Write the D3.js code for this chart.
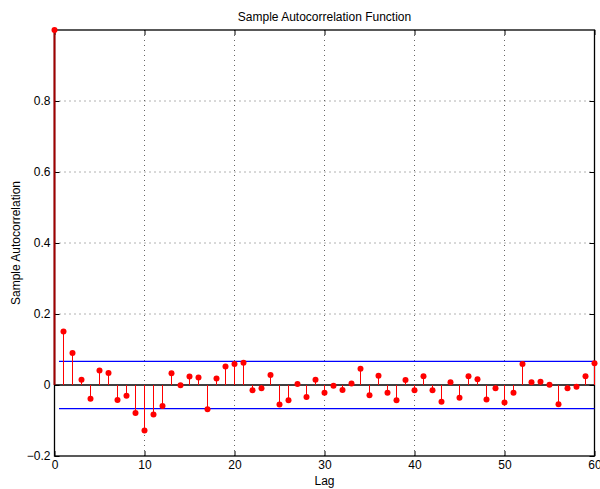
<!DOCTYPE html>
<html>
<head>
<meta charset="utf-8">
<script src="https://cdn.jsdelivr.net/npm/d3@7"></script>
<style>
html,body{margin:0;padding:0;background:#fff;}
text{font-family:"Liberation Sans",Arial,Helvetica,sans-serif;}
</style>
</head>
<body>
<svg id="chart" width="600" height="489"></svg>
<script>
// Data
const lags = d3.range(0, 61);
const acf = [1.000,
  0.151, 0.090, 0.015, -0.039, 0.041, 0.034, -0.042, -0.030, -0.079, -0.128,
  -0.083, -0.059, 0.033, -0.001, 0.024, 0.021, -0.068, 0.018, 0.052, 0.059,
  0.063, -0.015, -0.009, 0.028, -0.055, -0.043, 0.003, -0.034, 0.015, -0.022,
  -0.002, -0.014, 0.004, 0.046, -0.029, 0.026, -0.022, -0.043, 0.014, -0.015,
  0.025, -0.015, -0.047, 0.008, -0.036, 0.025, 0.016, -0.041, -0.009, -0.049,
  -0.022, 0.059, 0.008, 0.009, 0.001, -0.054, -0.009, -0.005, 0.025, 0.061];
const bounds = [0.0667, -0.0667];
const boundRange = [0.5, 60];
const xTicks = [0, 10, 20, 30, 40, 50, 60];
const yTicks = [-0.2, 0, 0.2, 0.4, 0.6, 0.8];
const yGrid = [0.2, 0.4, 0.6, 0.8];
const xGrid = [10, 20, 30, 40, 50];
const title = "Sample Autocorrelation Function";
const xLabel = "Lag";
const yLabel = "Sample Autocorrelation";

const W = 600, H = 489;
const m = {left: 54.5, right: 5.5, top: 30, bottom: 33};
const svg = d3.select("#chart");
const x = d3.scaleLinear().domain([0, 60]).range([m.left, W - m.right]);
const y = d3.scaleLinear().domain([-0.2, 1]).range([H - m.bottom, m.top]);
const x0 = x.range()[0], x1 = x.range()[1], yb = y.range()[0], yt = y.range()[1];

// grid
const g = svg.append("g");
g.selectAll(".vg").data(xGrid).join("line")
  .attr("x1", d => x(d)).attr("x2", d => x(d)).attr("y1", yb).attr("y2", yt)
  .attr("stroke", "#666").attr("stroke-width", 1).attr("stroke-dasharray", "1,4");
g.selectAll(".hg").data(yGrid).join("line")
  .attr("y1", d => y(d)).attr("y2", d => y(d)).attr("x1", x0).attr("x2", x1)
  .attr("stroke", "#666").attr("stroke-width", 1).attr("stroke-dasharray", "1,4");

// axes (ticks inward on all sides)
const tickLen = 5;
svg.append("g").attr("transform", `translate(0,${yb})`)
  .call(d3.axisBottom(x).tickValues(xTicks).tickFormat(d3.format("d")).tickSize(-tickLen).tickPadding(4))
  .call(a => a.select(".domain").remove());
svg.append("g").attr("transform", `translate(0,${yt})`)
  .call(d3.axisTop(x).tickValues(xTicks).tickFormat("").tickSize(-tickLen))
  .call(a => a.select(".domain").remove());
svg.append("g").attr("transform", `translate(${x0},0)`)
  .call(d3.axisLeft(y).tickValues(yTicks).tickFormat(d => d === 0 ? "0" : d3.format(".1f")(d).replace("-", "\u2212")).tickSize(-tickLen).tickPadding(4))
  .call(a => a.select(".domain").remove());
svg.append("g").attr("transform", `translate(${x1},0)`)
  .call(d3.axisRight(y).tickValues(yTicks).tickFormat("").tickSize(-tickLen))
  .call(a => a.select(".domain").remove());
svg.selectAll(".tick text").attr("font-size", 12).attr("fill", "#000")
  .attr("font-family", '"Liberation Sans",Arial,sans-serif');
svg.selectAll(".tick line").attr("stroke", "#000");

// box
svg.append("rect").attr("x", x0).attr("y", yt).attr("width", x1 - x0).attr("height", yb - yt)
  .attr("fill", "none").attr("stroke", "#000").attr("stroke-width", 1.3);

// zero line
svg.append("line").attr("x1", x0).attr("x2", x1).attr("y1", y(0)).attr("y2", y(0))
  .attr("stroke", "#000").attr("stroke-width", 1.5);

// confidence bounds
svg.selectAll(".bound").data(bounds).join("line")
  .attr("x1", x(boundRange[0])).attr("x2", x(boundRange[1]))
  .attr("y1", d => y(d)).attr("y2", d => y(d))
  .attr("stroke", "#0000ff").attr("stroke-width", 1.2);

// stems
const pts = lags.map((l, i) => ({lag: l, v: acf[i]}));
svg.selectAll(".stem").data(pts).join("line")
  .attr("x1", d => x(d.lag)).attr("x2", d => x(d.lag))
  .attr("y1", y(0)).attr("y2", d => y(d.v))
  .attr("stroke", d => d.lag === 0 ? "#a00000" : "#ff0000")
  .attr("stroke-width", d => d.lag === 0 ? 2 : 1);
svg.selectAll(".mk").data(pts).join("circle")
  .attr("cx", d => x(d.lag)).attr("cy", d => y(d.v)).attr("r", 3)
  .attr("fill", "#ff0000");

// labels
svg.append("text").attr("x", (x0 + x1) / 2).attr("y", 21).attr("text-anchor", "middle")
  .attr("font-size", 12).text(title);
svg.append("text").attr("x", (x0 + x1) / 2).attr("y", 485).attr("text-anchor", "middle")
  .attr("font-size", 12).text(xLabel);
svg.append("text").attr("transform", `translate(20,${(yb + yt) / 2}) rotate(-90)`)
  .attr("text-anchor", "middle").attr("font-size", 12).text(yLabel);
</script>
</body>
</html>
